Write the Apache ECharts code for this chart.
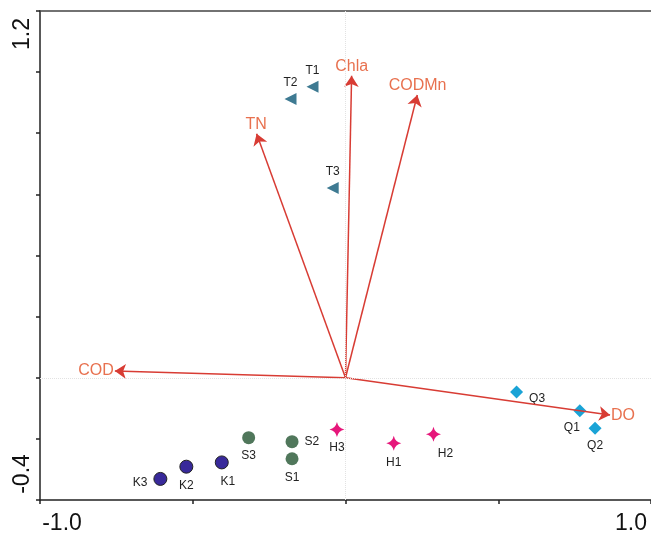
<!DOCTYPE html>
<html>
<head>
<meta charset="utf-8">
<script src="https://cdn.jsdelivr.net/npm/echarts@6/dist/echarts.min.js"></script>
<style>html,body{margin:0;padding:0;background:#fff}#c{width:651px;height:537px}</style>
</head>
<body>
<div id="c"></div>
<script>
// ---- data ----
const vectorNames = ['COD', 'DO', 'TN', 'Chla', 'CODMn'];
const vectorX = [-0.755, 0.866, -0.291, 0.02, 0.235];
const vectorY = [0.022, -0.122, 0.798, 0.988, 0.925];

const tNames = ['T1', 'T2', 'T3'];
const tX = [-0.108, -0.180, -0.042];
const tY = [0.952, 0.912, 0.621];

const sNames = ['S1', 'S2', 'S3'];
const sX = [-0.175, -0.175, -0.317];
const sY = [-0.265, -0.209, -0.196];

const kNames = ['K1', 'K2', 'K3'];
const kX = [-0.405, -0.521, -0.606];
const kY = [-0.277, -0.291, -0.331];

const hNames = ['H1', 'H2', 'H3'];
const hX = [0.158, 0.288, -0.028];
const hY = [-0.214, -0.185, -0.169];

const qNames = ['Q1', 'Q2', 'Q3'];
const qX = [0.767, 0.817, 0.560];
const qY = [-0.108, -0.165, -0.047];

const xTickLabels = ['-1.0', '1.0'];
const yTickLabels = ['-0.4', '1.2'];

// ---- label placement (style only) ----
const labelPlace = {
  T1: ['top', [0, 0]], T2: ['top', [0, 0]], T3: ['top', [0, 0]],
  S1: ['bottom', [0, 2]], S2: ['right', [2, 0]], S3: ['bottom', [0, 2]],
  K1: ['bottom', [6, 2]], K2: ['bottom', [0, 2]], K3: ['left', [-2, 4]],
  H1: ['bottom', [0, 2]], H2: ['bottom', [12, 2]], H3: ['bottom', [0, 1]],
  Q1: ['bottom', [-8, 0]], Q2: ['bottom', [0, 1]], Q3: ['right', [2, 7]]
};

function pts(names, xs, ys) {
  return names.map((n, i) => ({
    name: n,
    value: [xs[i], ys[i]],
    label: { position: labelPlace[n][0], offset: labelPlace[n][1] }
  }));
}

const FONT = 'Liberation Sans';
const ptLabel = { show: true, formatter: '{b}', color: '#222', fontSize: 12, fontFamily: FONT, distance: 4 };

const chart = echarts.init(document.getElementById('c'));
chart.setOption({
  animation: false,
  backgroundColor: '#fff',
  grid: { left: 40, top: 11, width: 612, height: 489, show: false, containLabel: false },
  xAxis: [{
    type: 'value', min: -1, max: 1, interval: 0.5,
    axisLine: { onZero: false, lineStyle: { color: '#222', width: 1.5 } },
    axisTick: { show: true, length: 4, lineStyle: { color: '#222', width: 1.5 } },
    splitLine: { show: false },
    axisLabel: {
      show: true, margin: 12, showMinLabel: true, showMaxLabel: true,
      formatter: function (v) {
        if (Math.abs(v + 1) < 1e-6) return '{min|' + xTickLabels[0] + '}';
        if (Math.abs(v - 1) < 1e-6) return '{max|' + xTickLabels[1] + '}';
        return '';
      },
      rich: {
        min: { fontSize: 23, color: '#111', fontFamily: FONT, padding: [0, 0, 0, 44] },
        max: { fontSize: 23, color: '#111', fontFamily: FONT, padding: [0, 40, 0, 0] }
      }
    }
  }, {
    type: 'value', min: -1, max: 1, position: 'top',
    axisLine: { show: true, onZero: false, lineStyle: { color: '#444', width: 1.5 } },
    axisTick: { show: false }, axisLabel: { show: false }, splitLine: { show: false }
  }],
  yAxis: {
    type: 'value', min: -0.4, max: 1.2, interval: 0.2,
    axisLine: { onZero: false, lineStyle: { color: '#222', width: 1.5 } },
    axisTick: { show: true, length: 4, lineStyle: { color: '#222', width: 1.5 } },
    splitLine: { show: false },
    axisLabel: {
      show: true, rotate: 90, margin: 6, showMinLabel: true, showMaxLabel: true,
      formatter: function (v) {
        if (Math.abs(v + 0.4) < 1e-6) return '{min|' + yTickLabels[0] + '}';
        if (Math.abs(v - 1.2) < 1e-6) return '{max|' + yTickLabels[1] + '}';
        return '';
      },
      rich: {
        min: { fontSize: 23, color: '#111', fontFamily: FONT, padding: [0, 0, 0, 52] },
        max: { fontSize: 23, color: '#111', fontFamily: FONT, padding: [0, 46, 0, 0] }
      }
    }
  },
  series: [
    {
      type: 'lines', coordinateSystem: 'cartesian2d', z: 3,
      symbol: ['none', 'arrow'], symbolSize: 11,
      lineStyle: { color: '#d83c34', width: 1.5, opacity: 1, curveness: 0 },
      label: { show: true, position: 'end', distance: 1, formatter: '{b}', color: '#e8714f', fontSize: 16, fontFamily: FONT },
      data: vectorNames.map((n, i) => ({ name: n, coords: [[0, 0], [vectorX[i], vectorY[i]]] })),
      markLine: {
        silent: true, symbol: 'none', label: { show: false },
        lineStyle: { color: '#e2e2e2', type: 'dotted', width: 1 },
        data: [{ xAxis: 0 }, { yAxis: 0 }]
      }
    },
    {
      type: 'scatter', name: 'T', symbol: 'triangle', symbolRotate: 90, symbolSize: 12,
      itemStyle: { color: '#3e7a92', opacity: 1 }, label: ptLabel, data: pts(tNames, tX, tY)
    },
    {
      type: 'scatter', name: 'S', symbol: 'circle', symbolSize: 13,
      itemStyle: { color: '#50775b', opacity: 1 }, label: ptLabel, data: pts(sNames, sX, sY)
    },
    {
      type: 'scatter', name: 'K', symbol: 'circle', symbolSize: 13,
      itemStyle: { color: '#38299a', borderColor: '#222', borderWidth: 1, opacity: 1 }, label: ptLabel, data: pts(kNames, kX, kY)
    },
    {
      type: 'scatter', name: 'H',
      symbol: 'path://M0,-10 Q1.8,-1.8 10,0 Q1.8,1.8 0,10 Q-1.8,1.8 -10,0 Q-1.8,-1.8 0,-10z', symbolSize: 15,
      itemStyle: { color: '#e6177b', opacity: 1 }, label: ptLabel, data: pts(hNames, hX, hY)
    },
    {
      type: 'scatter', name: 'Q', symbol: 'diamond', symbolSize: 13,
      itemStyle: { color: '#1aa3d6', opacity: 1 }, label: ptLabel, data: pts(qNames, qX, qY)
    }
  ]
});
</script>
</body>
</html>
